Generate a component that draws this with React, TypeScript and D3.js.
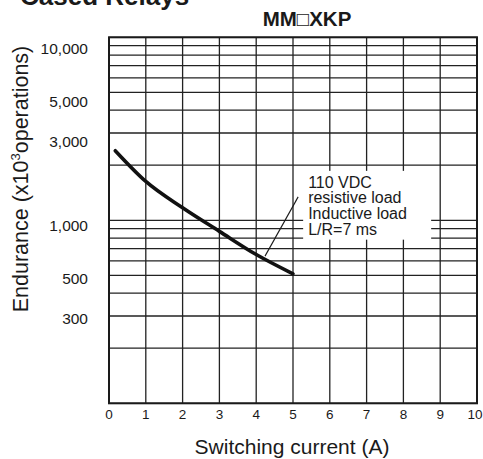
import React from "react";
import * as d3 from "d3";

// ---- data ----
const currents = [0.17, 1, 2, 3, 4, 5];
const endurance = [2400, 1630, 1170, 870, 650, 510];
const xTicks = [0, 1, 2, 3, 4, 5, 6, 7, 8, 9, 10];
const yTickLabels = [10000, 5000, 3000, 1000, 500, 300];
const gridValues = [
  100, 200, 300, 400, 500, 600, 700, 800, 900, 1000, 2000, 3000, 4000, 5000, 6000, 7000, 8000, 9000, 10000,
];
const noteLines = ["110 VDC", "resistive load", "Inductive load", "L/R=7 ms"];
const noteLeaderFrom = { x: 5.14, y: 1343 };
const noteLeaderTo = { x: 4.24, y: 637 };

const W = 483;
const H = 459;
const left = 109;
const right = 477;
const top = 37.3;
const bottom = 403.3;

export default function App() {
  const x = d3.scaleLinear().domain([0, 10]).range([left, right]);
  const y = d3.scaleLog().domain([100, 10000]).range([bottom, top]);
  // tick labels in the original sit on a slightly different log scale
  const yLab = d3.scaleLog().domain([300, 10000]).range([top + 281, top + 11]);

  const pts: [number, number][] = currents.map((c, i) => [x(c), y(endurance[i])]);
  const line = d3.line().curve(d3.curveMonotoneX)(pts) || "";

  const lx0 = x(noteLeaderFrom.x);
  const ly0 = y(noteLeaderFrom.y);
  const lx1 = x(noteLeaderTo.x);
  const ly1 = y(noteLeaderTo.y);
  const textX = lx0 + 10;
  const base0 = ly0 - 9;
  const lh = 15.6;

  const font = "'Liberation Sans', Arial, Helvetica, sans-serif";
  const ink = "#1a1a1a";

  return (
    <svg
      width={W}
      height={H}
      style={{ position: "absolute", left: 0, top: 0, background: "#fff" }}
      fontFamily={font}
    >
      <text x={20} y={5} fontSize={26} fontWeight="bold" fill={ink}>
        Cased Relays
      </text>
      <text x={307} y={26} fontSize={20.5} fontWeight="bold" fill={ink} textAnchor="middle">
        MM□XKP
      </text>

      {/* horizontal gridlines */}
      {gridValues.map((v) => (
        <line key={"h" + v} x1={left} x2={right} y1={y(v)} y2={y(v)} stroke="#222" strokeWidth={1.3} />
      ))}
      {/* vertical gridlines */}
      {xTicks.map((t) => (
        <line key={"v" + t} x1={x(t)} x2={x(t)} y1={top} y2={bottom} stroke="#222" strokeWidth={1.3} />
      ))}
      <rect x={left} y={top} width={right - left} height={bottom - top} fill="none" stroke="#1a1a1a" strokeWidth={2} />

      {/* annotation box */}
      <rect x={textX - 5} y={base0 - 17} width={128} height={lh * 3 + 22} fill="#fff" />
      <line x1={lx0} y1={ly0} x2={lx1} y2={ly1} stroke={ink} strokeWidth={1.1} />
      {noteLines.map((s, i) => (
        <text key={s} x={textX} y={base0 + i * lh} fontSize={16} fill={ink}>
          {s}
        </text>
      ))}

      {/* curve */}
      <path d={line} fill="none" stroke="#111" strokeWidth={3.6} strokeLinecap="round" />

      {/* y tick labels */}
      {yTickLabels.map((v) => (
        <text key={"yl" + v} x={88} y={yLab(v)} fontSize={15.5} fill={ink} textAnchor="end" dominantBaseline="central">
          {d3.format(",")(v)}
        </text>
      ))}
      {/* x tick labels */}
      {xTicks.map((t, i) => (
        <text
          key={"xl" + t}
          x={x(t) - (i === xTicks.length - 1 ? 2 : 0)}
          y={419}
          fontSize={13.5}
          fill={ink}
          textAnchor="middle"
        >
          {t}
        </text>
      ))}

      <text x={292} y={454} fontSize={21} fill={ink} textAnchor="middle">
        Switching current (A)
      </text>
      <text
        transform={`translate(28,179) rotate(-90)`}
        fontSize={21.5}
        fill={ink}
        textAnchor="middle"
      >
        Endurance (x10<tspan dy={-8} fontSize={13}>3</tspan>
        <tspan dy={8}>operations)</tspan>
      </text>
    </svg>
  );
}
